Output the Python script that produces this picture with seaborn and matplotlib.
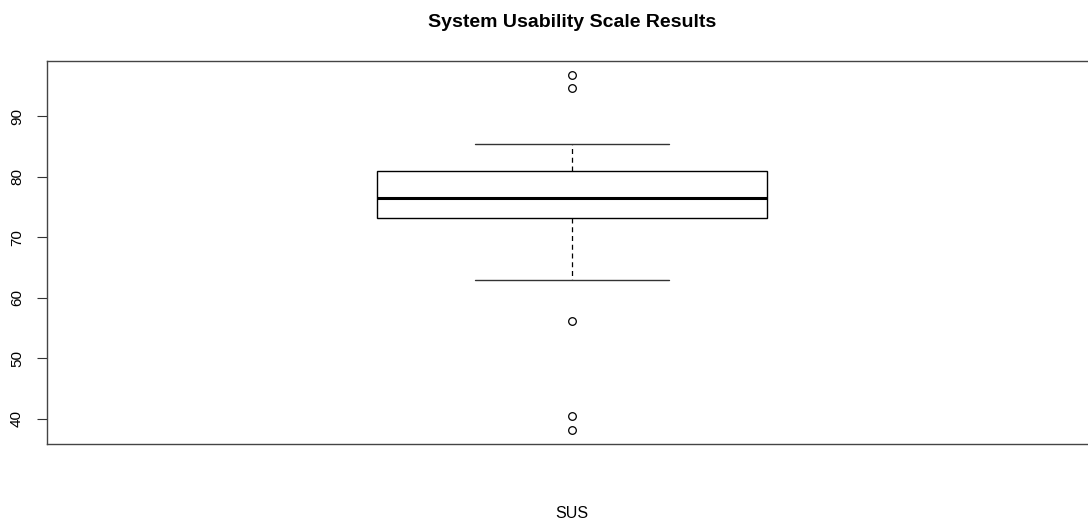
import matplotlib
matplotlib.use("Agg")
import matplotlib.pyplot as plt
import seaborn as sns
import pandas as pd

# SUS scores (estimated from the reference boxplot: quartiles, whiskers, outliers)
sus_scores = [38.2, 40.5, 56.2, 62.9, 70.0, 73.2, 74.0, 75.0, 75.5, 76.0,
              76.55, 77.5, 78.0, 79.0, 80.0, 81.0, 82.0, 84.0, 85.5, 94.6, 96.8]
group_label = "SUS"
title_text = "System Usability Scale Results"
y_ticks = [40, 50, 60, 70, 80, 90]

df = pd.DataFrame({"score": sus_scores})

sns.set_style("white")
plt.rcParams["font.family"] = ["Liberation Sans", "DejaVu Sans"]
plt.rcParams["text.color"] = "black"
plt.rcParams["ytick.color"] = "black"

fig = plt.figure(figsize=(10.88, 5.30), dpi=100)
ax = fig.add_axes([47/1088, 1-444/530, (1097-47)/1088, (444-61)/530])

sns.boxplot(data=df, y="score", ax=ax, width=0.3705, color="white",
            linecolor="black", linewidth=1.0, whis=1.5, fill=True,
            boxprops=dict(facecolor="white", edgecolor="black", linewidth=1.0),
            medianprops=dict(color="black", linewidth=2.2),
            whiskerprops=dict(color="black", linewidth=0.9, linestyle=(0, (4, 3))),
            capprops=dict(color="#333333", linewidth=1.0),
            flierprops=dict(marker="o", markersize=5.5, markerfacecolor="none",
                            markeredgecolor="black", markeredgewidth=0.9))

ax.set_xlim(-0.5, 0.5)
ax.set_ylim(35.86, 99.14)
ax.set_xticks([])
ax.set_yticks(y_ticks)
ax.set_yticklabels([str(t) for t in y_ticks], rotation=90, va="center",
                   fontsize=11, color="black")
ax.tick_params(axis="y", left=True, length=7.2, width=0.8, color="#333333",
               pad=9.4, labelcolor="black")
ax.set_xlabel("")
ax.set_ylabel("")
for sp in ax.spines.values():
    sp.set_visible(True)
    sp.set_color("#444444")
    sp.set_linewidth(1.0)

fig.text(572.5/1088, 1-27/530, title_text, ha="center", va="baseline",
         fontsize=14, fontweight="bold", color="black")
fig.text(572/1088, 1-518/530, group_label, ha="center", va="baseline",
         fontsize=11.5, color="black")

fig.savefig("out.png", dpi=100, facecolor="white")
